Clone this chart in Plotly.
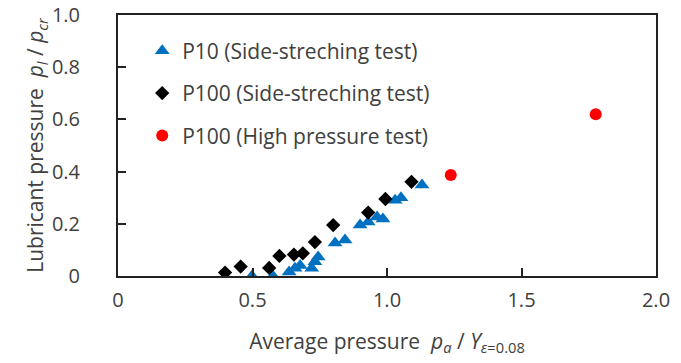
import plotly.graph_objects as go

# P10 (Side-streching test) - blue triangles
p10_x = [0.498, 0.576, 0.636, 0.658, 0.677, 0.72, 0.732, 0.744, 0.807, 0.844,
         0.90, 0.93, 0.963, 0.985, 1.03, 1.052, 1.13]
p10_y = [0.00, 0.00, 0.015, 0.03, 0.04, 0.03, 0.055, 0.073, 0.126, 0.138,
         0.195, 0.207, 0.226, 0.218, 0.29, 0.30, 0.349]

# P100 (Side-streching test) - black diamonds
p100_x = [0.398, 0.456, 0.562, 0.600, 0.654, 0.687, 0.732, 0.800, 0.930, 0.994, 1.091]
p100_y = [0.013, 0.036, 0.031, 0.077, 0.082, 0.087, 0.13, 0.195, 0.243, 0.295, 0.361]

# P100 (High pressure test) - red circles
hp_x = [1.237, 1.776]
hp_y = [0.387, 0.620]

x_ticks = [0, 0.5, 1.0, 1.5, 2.0]
x_ticktext = ["0", "0.5", "1.0", "1.5", "2.0"]
y_ticks = [0, 0.2, 0.4, 0.6, 0.8, 1.0]
y_ticktext = ["0", "0.2", "0.4", "0.6", "0.8", "1.0"]

FONT = "Open Sans"
TXT = "#404040"
FS = 20
FT = 21

fig = go.Figure()
fig.add_trace(go.Scatter(x=p10_x, y=p10_y, mode="markers", name="P10 (Side-streching test)",
                         legendgroup="a",
                         marker=dict(symbol="triangle-up", size=13, color="#0070C0")))
fig.add_trace(go.Scatter(x=p100_x, y=p100_y, mode="markers", name="P100 (Side-streching test)",
                         legendgroup="b",
                         marker=dict(symbol="diamond", size=11, color="black")))
fig.add_trace(go.Scatter(x=hp_x, y=hp_y, mode="markers", name="P100 (High pressure test)",
                         legendgroup="c",
                         marker=dict(symbol="circle", size=12, color="#FF0000")))

axis_common = dict(showline=True, linewidth=2, linecolor="#222222", mirror=True,
                   ticks="inside", ticklen=8, tickwidth=1.5, tickcolor="#222222",
                   showgrid=False, zeroline=False, automargin=False,
                   ticklabeloverflow="allow",
                   tickfont=dict(family=FONT, size=FS, color=TXT))

fig.update_layout(
    width=681, height=363,
    margin=dict(l=118, r=25, t=15, b=87, autoexpand=False),
    paper_bgcolor="white", plot_bgcolor="white",
    font=dict(family=FONT, size=FS, color=TXT),
    xaxis=dict(range=[0, 2.0], tickvals=x_ticks, ticktext=x_ticktext,
               ticklabelstandoff=5,
               title=dict(text="Average pressure  <i>p</i><sub><i>a</i></sub> / <i>Y</i><sub><i>ε</i>=0.08</sub>",
                          font=dict(family=FONT, size=FT, color=TXT), standoff=22),
               **axis_common),
    yaxis=dict(range=[0, 1.0], tickvals=y_ticks, ticktext=y_ticktext,
               ticklabelstandoff=32,
               title=dict(text="Lubricant pressure  <i>p</i><sub><i>l</i></sub> / <i>p</i><sub><i>cr</i></sub>",
                          font=dict(family=FONT, size=FT, color=TXT), standoff=1),
               **axis_common),
    legend=dict(x=0.045, y=0.94, xanchor="left", yanchor="top",
                bgcolor="rgba(255,255,255,0)", traceorder="grouped",
                tracegroupgap=12, font=dict(family=FONT, size=FT, color=TXT)),
    showlegend=True,
)

# remove the browser's default 8px body margin so the figure sits at the page origin
fig.write_html("out.html", config={"displayModeBar": False},
               post_script="document.body.style.margin='0';")
